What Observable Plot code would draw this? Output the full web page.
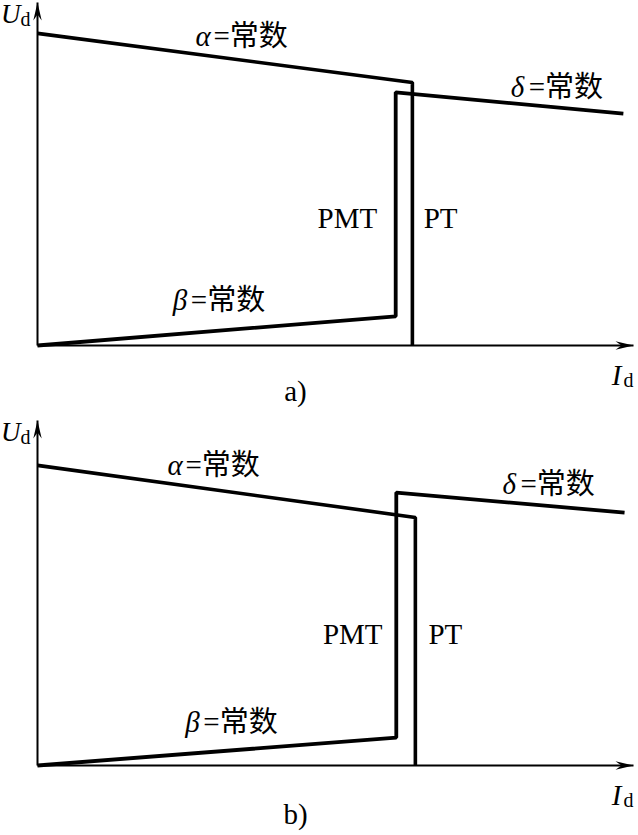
<!DOCTYPE html>
<html><head><meta charset="utf-8">
<script src="https://cdn.jsdelivr.net/npm/d3@7"></script>
<script src="https://cdn.jsdelivr.net/npm/@observablehq/plot@0.6"></script>
<style>
body{margin:0;background:#fff;}
#chart{width:638px;height:835px;overflow:hidden;background:#fff;}
svg{display:block;}
</style></head><body><div id="chart"></div>
<script>
// ---- data (arbitrary units: Id and Ud, axes run 0..100) ----
const axisExtent = [0, 100];
const panelNames = ["a)", "b)"];
// PT characteristic: alpha = const, then vertical drop to Id axis
const ptA_Id = [0, 62.9, 62.9];
const ptA_Ud = [91.0, 76.7, 0];
// PMT characteristic: beta = const, vertical rise, then delta = const
const pmtA_Id = [0, 60.1, 60.1, 98.3];
const pmtA_Ud = [0, 8.5, 73.8, 67.6];
const ptB_Id = [0, 63.4, 63.4];
const ptB_Ud = [87.0, 71.9, 0];
const pmtB_Id = [0, 60.2, 60.2, 98.5];
const pmtB_Ud = [0, 8.1, 79.1, 73.3];
// parameter labels
const greekLetters = ["α", "δ", "β"];
const constText = "=常数";
const paramA_Id = [26.5, 79.4, 22.7];
const paramA_Ud = [90.1, 75.2, 13.1];
const paramB_Id = [21.8, 78.0, 24.8];
const paramB_Ud = [87.0, 81.4, 12.5];
// mode labels
const modeLabels = ["PMT", "PT"];
const modeA_Id = [57.0, 64.8];
const modeA_Ud = [37.0, 37.0];
const modeB_Id = [57.9, 65.6];
const modeB_Ud = [38.0, 38.0];

const serif = "'Liberation Serif', 'Times New Roman', 'Noto Sans CJK SC', serif";
const FS = 29;

function panel(p) {
  const idx = a => a.map((_, i) => i);
  const zeros = [0, 0];
  const curve = (X, Y, w) => Plot.line(idx(X), {
    x: i => X[i], y: i => Y[i], stroke: "black", strokeWidth: w,
    strokeLinejoin: "miter", strokeLinecap: "butt", curve: "linear"
  });
  const svg = Plot.plot({
    width: 638, height: p.height,
    marginLeft: 37, marginRight: 5, marginTop: 2, marginBottom: p.marginBottom,
    x: {domain: axisExtent, axis: null},
    y: {domain: axisExtent, axis: null},
    style: {background: "white", overflow: "visible", fontFamily: serif},
    marks: [
      Plot.line([0, 1], {x: i => axisExtent[i], y: i => zeros[i], stroke: "black", strokeWidth: 2, strokeLinecap: "butt"}),
      Plot.line([0, 1], {x: i => zeros[i], y: i => axisExtent[i], stroke: "black", strokeWidth: 2, strokeLinecap: "butt"}),
      curve(p.ptX, p.ptY, 3.6),
      curve(p.pmtX, p.pmtY, 3.8),
      Plot.text(idx(greekLetters), {x: i => p.parX[i], y: i => p.parY[i], text: i => greekLetters[i],
        textAnchor: "start", fontStyle: "italic", fontSize: FS, fill: "black"}),
      Plot.text(idx(greekLetters), {x: i => p.parX[i], y: i => p.parY[i], text: () => constText,
        textAnchor: "start", dx: 18, fontSize: FS, fill: "black"}),
      Plot.text([0], {x: i => p.modeX[i], y: i => p.modeY[i], text: i => modeLabels[i],
        textAnchor: "end", fontSize: FS, fill: "black"}),
      Plot.text([1], {x: i => p.modeX[i], y: i => p.modeY[i], text: i => modeLabels[i],
        textAnchor: "start", fontSize: FS, fill: "black"}),
      // axis names
      Plot.text(["U"], {frameAnchor: "top-left", textAnchor: "end", lineAnchor: "bottom", dx: -17, dy: 20, fontStyle: "italic", fontSize: 27, fill: "black"}),
      Plot.text(["d"], {frameAnchor: "top-left", textAnchor: "start", lineAnchor: "bottom", dx: -17, dy: 23, fontSize: 20, fill: "black"}),
      Plot.text(["I"], {frameAnchor: "bottom-right", textAnchor: "end", lineAnchor: "bottom", dx: -12, dy: 39, fontStyle: "italic", fontSize: FS, fill: "black"}),
      Plot.text(["d"], {frameAnchor: "bottom-right", textAnchor: "end", lineAnchor: "bottom", dx: 0, dy: 41, fontSize: 20, fill: "black"}),
      // caption
      Plot.text([p.name], {frameAnchor: "bottom", textAnchor: "middle", lineAnchor: "bottom", dx: -40, dy: p.capDy, fontSize: FS, fill: "black"})
    ]
  });
  const s = d3.select(svg);
  const id = "arr" + p.key;
  const m = s.append("defs").append("marker")
    .attr("id", id).attr("viewBox", "-19 -6 20 12").attr("refX", 0).attr("refY", 0)
    .attr("markerWidth", 20).attr("markerHeight", 12).attr("markerUnits", "userSpaceOnUse")
    .attr("orient", "auto");
  m.append("path").attr("d", "M0,0L-18,-4.2L-12,0L-18,4.2Z").attr("fill", "black");
  const lineGroups = s.selectAll('g[aria-label="line"]').nodes();
  lineGroups.slice(0, 2).forEach(g => d3.select(g).selectAll("path").attr("marker-end", `url(#${id})`));
  return svg;
}

const chart = document.getElementById("chart");
chart.appendChild(panel({key: "a", name: panelNames[0], height: 418, marginBottom: 73, capDy: 55,
  ptX: ptA_Id, ptY: ptA_Ud, pmtX: pmtA_Id, pmtY: pmtA_Ud,
  parX: paramA_Id, parY: paramA_Ud, modeX: modeA_Id, modeY: modeA_Ud}));
chart.appendChild(panel({key: "b", name: panelNames[1], height: 417, marginBottom: 70, capDy: 58,
  ptX: ptB_Id, ptY: ptB_Ud, pmtX: pmtB_Id, pmtY: pmtB_Ud,
  parX: paramB_Id, parY: paramB_Ud, modeX: modeB_Id, modeY: modeB_Ud}));
</script></body></html>
